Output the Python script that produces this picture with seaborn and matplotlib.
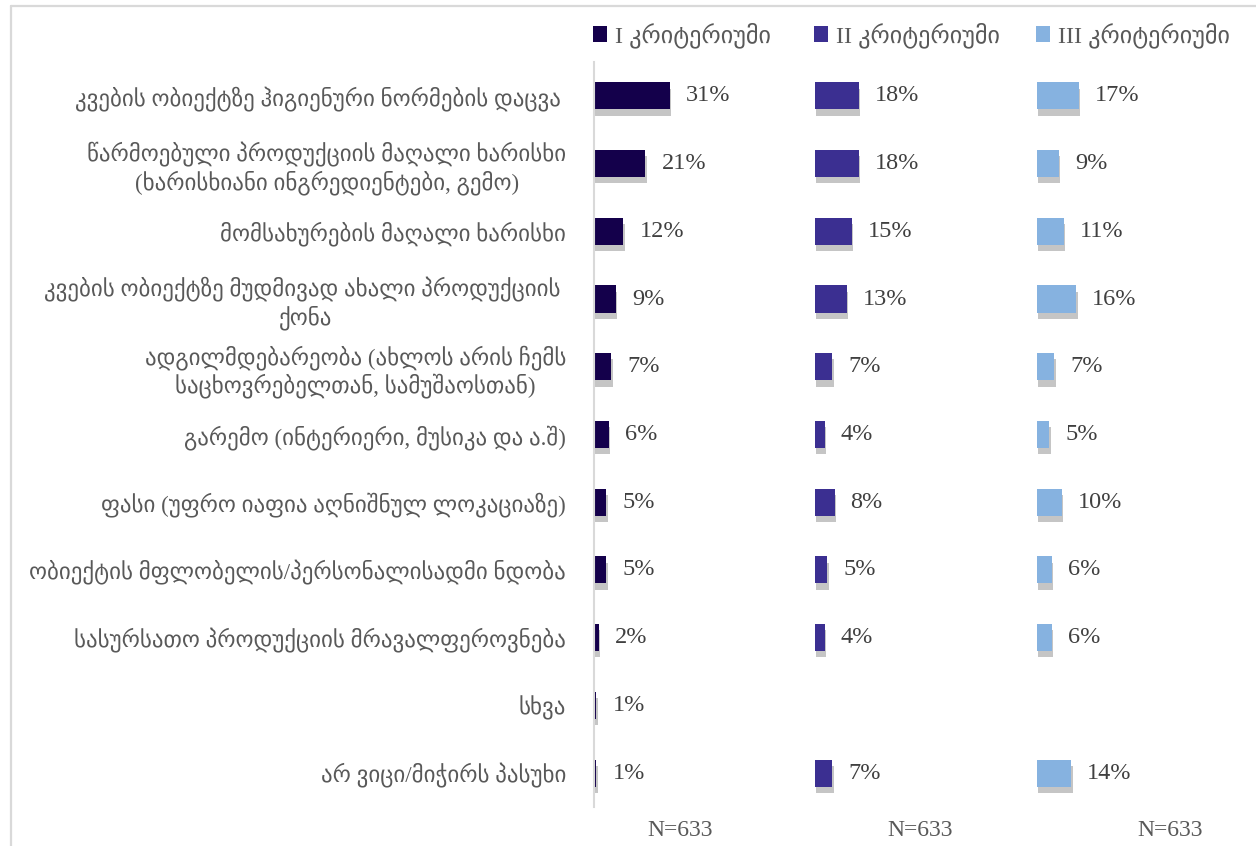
import numpy as np
import pandas as pd
import matplotlib
matplotlib.use("Agg")
import matplotlib.pyplot as plt
import seaborn as sns
from matplotlib import patheffects as pe
from matplotlib.patches import Patch
from matplotlib.lines import Line2D

categories = [
    "კვების ობიექტზე ჰიგიენური ნორმების დაცვა ",
    "წარმოებული პროდუქციის მაღალი ხარისხი\n(ხარისხიანი ინგრედიენტები, გემო)",
    "მომსახურების მაღალი ხარისხი",
    "კვების ობიექტზე მუდმივად ახალი პროდუქციის \nქონა",
    "ადგილმდებარეობა (ახლოს არის ჩემს\nსაცხოვრებელთან, სამუშაოსთან)",
    "გარემო (ინტერიერი, მუსიკა და ა.შ)",
    "ფასი (უფრო იაფია აღნიშნულ ლოკაციაზე)",
    "ობიექტის მფლობელის/პერსონალისადმი ნდობა",
    "სასურსათო პროდუქციის მრავალფეროვნება",
    "სხვა",
    "არ ვიცი/მიჭირს პასუხი",
]
crit1 = [31, 21, 12, 9, 7, 6, 5, 5, 2, 1, 1]
crit2 = [18, 18, 15, 13, 7, 4, 8, 5, 4, np.nan, 7]
crit3 = [17, 9, 11, 16, 7, 5, 10, 6, 6, np.nan, 14]
series_names = ["I კრიტერიუმი", "II კრიტერიუმი", "III კრიტერიუმი"]
n_labels = ["N=633", "N=633", "N=633"]
colors = ["#14004B", "#3B2F91", "#86B2E0"]

sns.set_theme(style="white")
plt.rcParams["font.family"] = ["Liberation Serif", "DejaVu Sans"]

W, H = 1256, 846
fig = plt.figure(figsize=(W / 100, H / 100), dpi=100)

PX_PER_PCT = 2.45
top_px, bot_px = 62, 807
panels = [(594, 815), (815, 1037), (1037, 1256)]
n_pos = [680, 920, 1170]

all_series = [crit1, crit2, crit3]
for i, ((x0, x1), vals, name, col) in enumerate(zip(panels, all_series, series_names, colors)):
    ax = fig.add_axes([x0 / W, 1 - bot_px / H, (x1 - x0) / W, (bot_px - top_px) / H])
    df = pd.DataFrame({"cat": categories, "val": vals})
    sns.barplot(data=df, x="val", y="cat", order=categories, color=col,
                saturation=1, width=0.4, linewidth=0, errorbar=None, ax=ax)
    ax.set_xlim(0, (x1 - x0) / PX_PER_PCT)
    ax.set_ylim(len(categories) - 0.5, -0.5)
    for p in ax.patches:
        p.set_path_effects([
            pe.SimplePatchShadow(offset=(1.0, -4.5), shadow_rgbFace="#6f6f6f", alpha=0.4),
            pe.Normal(),
        ])
    for j, v in enumerate(vals):
        if not np.isnan(v):
            ax.annotate(f"{int(v)}%", xy=(v, j), xytext=(16, 0), textcoords="offset pixels",
                        ha="left", va="center", fontsize=17.5, color="#404040",
                        family=["Liberation Serif"])
    ax.set_xlabel("")
    ax.set_ylabel("")
    ax.set_xticks([])
    for s in ["top", "right", "bottom"]:
        ax.spines[s].set_visible(False)
    if i == 0:
        ax.spines["left"].set_color("#d9d9d9")
        ax.spines["left"].set_linewidth(1.5)
        ax.tick_params(axis="y", length=0, pad=20, labelsize=16.5, labelcolor="#595959")
        for lbl in ax.get_yticklabels():
            lbl.set_multialignment("center")
            lbl.set_linespacing(1.2)
    else:
        ax.spines["left"].set_visible(False)
        ax.set_yticks([])
    ax.legend(handles=[Patch(facecolor=col, edgecolor="none", label=name)],
              loc="center left", bbox_to_anchor=(-0.005, 1.036), frameon=False,
              handlelength=0.6, handleheight=0.6, handletextpad=0.3,
              borderaxespad=0, borderpad=0, fontsize=17.5, labelcolor="#595959")
    fig.text(n_pos[i] / W, 1 - 830 / H, n_labels[i], ha="center", va="center",
             fontsize=17, color="#595959", family=["Liberation Serif"])

fig.add_artist(Line2D([11 / W, 11 / W], [0, 1 - 6 / H], color="#d9d9d9", lw=1.6))
fig.add_artist(Line2D([11 / W, 1], [1 - 6 / H, 1 - 6 / H], color="#d9d9d9", lw=1.6))

fig.savefig("out.png", dpi=100, facecolor="white")
